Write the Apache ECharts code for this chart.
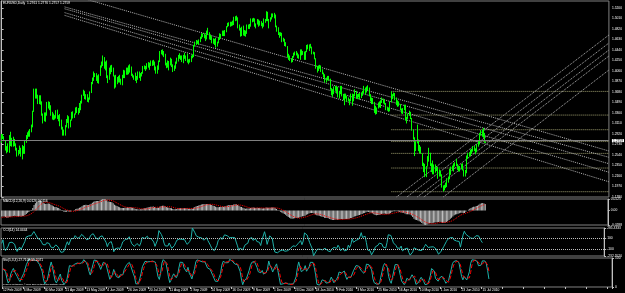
<!DOCTYPE html>
<html><head><meta charset="utf-8">
<script src="https://cdn.jsdelivr.net/npm/echarts@6/dist/echarts.min.js"></script>
<style>html,body{margin:0;padding:0;background:#000;}#c{width:625px;height:293px;}</style>
</head><body><div id="c"></div>
<script>
// ---- data (prices in pips: 2860 = 1.2860) ----
const tickLabels = ['12 Feb 2009','6 Mar 2009','30 Mar 2009','21 Apr 2009','13 May 2009','4 Jun 2009','26 Jun 2009','20 Jul 2009','11 Aug 2009','2 Sep 2009','24 Sep 2009','16 Oct 2009','9 Nov 2009','1 Dec 2009','23 Dec 2009','18 Jan 2010','9 Feb 2010','3 Mar 2010','25 Mar 2010','16 Apr 2010','10 May 2010','1 Jun 2010','23 Jun 2010','15 Jul 2010'];
const firstOpen = 2880;
const warmupCloses = [2690,2710,2760,2740,2710,2940,2970,2980,3310,3380,3590,3980,4380,4310,3890,3940,3950,4030,4070,4240,4100,3970,3920,3600,3560,3660,3720,3450,3410,3230,3150,3180,3280,3020,2860,3010,2940,2960,3170,3190,3170,2960,2800,2790,3010,2840,2850,2950,3020,2870,2890];
const closes = [2860,2860,
2810,2650,2600,2720,2860, 2730,2830,2760,2740,2670, 2580,2590,2660,2540,2670, 2590,2800,2870,2940,2930,
2960,3070,3330,3690,3590, 3600,3500,3590,3490,3280, 3180,3240,3280,3460,3490, 3420,3260,3250,3210,3200,
3330,3220,3240,3080,3030, 2940,2980,3050,3160,3240, 3050,3170,3300,3230,3270, 3390,3330,3340,3470,3490,
3620,3670,3580,3580,3520, 3560,3680,3850,3900,4000, 4000,3920,3920,3980,4150, 4170,4300,4150,4200,3950,
3930,4100,4080,4120,3960, 3760,3950,3920,3870,3920, 3810,3970,3970,4040,4040, 4100,4030,4130,3990,3960,
3940,3880,3900,4010,3950, 4000,4030,4140,4120,4100, 4190,4200,4180,4250,4200, 4230,4120,4030,4120,4240,
4420,4400,4410,4340,4180, 4180,4170,4180,4260,4170, 4080,4140,4220,4270,4340, 4320,4310,4240,4330,4310,
4340,4220,4250,4260,4310, 4340,4520,4570,4580,4570, 4600,4650,4720,4710,4680, 4630,4780,4730,4680,4680,
4630,4560,4630,4520,4570, 4640,4720,4700,4780,4710, 4790,4860,4920,4910,4910, 4930,4910,5020,5020,5010,
4860,4810,4700,4850,4720, 4760,4770,4880,4870,4860, 5010,4960,5000,4870,4910, 4980,4880,4950,4900,4860,
4990,4970,5130,4980,4990, 5000,5080,5060,5060,4870, 4810,4740,4720,4710,4620, 4630,4530,4510,4330,4340,
4270,4230,4320,4380, 4380,4380,4300,4320,
4420,4370,4410,4310,4410, 4510,4490,4520,4490,4380, 4390,4280,4100,4100,4140, 4150,4070,4010,3980,3860,
3930,3960,3910,3720,3680, 3660,3750,3740,3750,3620, 3670,3780,3610,3530,3610, 3600,3510,3510,3530,3630,
3530,3620,3680,3580,3620, 3630,3590,3640,3670,3760, 3680,3760,3750,3630,3530, 3530,3490,3310,3280,3380,
3480,3410,3510,3550,3500, 3470,3380,3370,3350,3490, 3580,3630,3640,3550,3500, 3480,3440,3370,3310,3370,
3400,3170,3190,3270,3300, 3200,2990,2830,2610,2750, 2800,2700,2640,2570,2360, 2340,2210,2340,2470,2570,
2360,2370,2200,2360,2280, 2280,2220,2220,2180,1970, 1930,1990,1990,2110,2110, 2220,2310,2280,2380,2390,
2350,2280,2310,2300,2360, 2270,2150,2230,2520,2560, 2540,2620,2620,2690,2640, 2610,2730,2740,2920,2940,
2940,2910,2761,2759];
const highs = [2920,2920,
2880,2810,2700,2750,2900, 2960,2850,2870,2830,2750, 2650,2630,2710,2670,2720, 2700,2810,2900,2950,2980,
3010,3090,3340,3740,3740, 3740,3630,3620,3620,3510, 3290,3310,3310,3500,3510, 3500,3440,3320,3290,3260,
3350,3360,3260,3280,3180, 3050,3000,3080,3190,3260, 3240,3180,3320,3330,3290, 3400,3410,3390,3480,3520,
3630,3720,3700,3640,3640, 3580,3690,3860,3940,4050, 4020,4020,3980,4000,4160, 4230,4340,4310,4230,4250,
3980,4120,4160,4170,4120, 3980,3990,3950,3970,3990, 3920,3990,4080,4070,4120, 4120,4160,4180,4140,4010,
3980,4030,3970,4050,4050, 4020,4040,4150,4160,4150, 4200,4220,4210,4250,4250, 4260,4230,4140,4160,4250,
4420,4440,4450,4420,4370, 4210,4250,4240,4300,4280, 4180,4160,4230,4300,4350, 4380,4340,4340,4350,4390,
4340,4370,4270,4280,4340, 4360,4530,4590,4620,4610, 4630,4680,4740,4740,4740, 4710,4790,4840,4760,4720,
4690,4650,4640,4660,4590, 4660,4740,4730,4790,4790, 4800,4870,4930,4940,4950, 4950,4970,5040,5050,5060,
5030,4900,4840,4860,4880, 4800,4790,4900,4900,4910, 5010,5010,5020,5010,4920, 5000,4990,4970,4960,4930,
5010,5000,5140,5120,5000, 5030,5100,5100,5110,5080, 4880,4850,4760,4760,4750, 4660,4640,4580,4510,4370,
4340,4290,4330,4390, 4410,4420,4390,4360,
4450,4450,4420,4410,4420, 4530,4540,4540,4550,4500, 4410,4400,4290,4150,4160, 4170,4160,4090,4030,4000,
3940,3970,3970,3920,3750, 3730,3780,3790,3790,3770, 3700,3790,3790,3640,3650, 3650,3610,3580,3550,3650,
3650,3640,3730,3700,3640, 3650,3660,3670,3700,3790, 3760,3780,3800,3760,3640, 3580,3570,3500,3430,3400,
3490,3510,3530,3580,3560, 3540,3480,3410,3400,3510, 3690,3640,3670,3660,3580, 3530,3510,3460,3380,3390,
3450,3450,3230,3290,3340, 3320,3210,3000,2860,2780, 3090,2820,2720,2690,2570, 2400,2380,2340,2520,2670,
2580,2390,2440,2370,2370, 2320,2330,2280,2260,2190, 1990,2000,2040,2120,2150, 2290,2330,2350,2390,2410,
2470,2380,2340,2340,2380, 2390,2280,2270,2530,2580, 2590,2640,2650,2700,2700, 2660,2740,2790,2940,2990,
3000,3030,2940,2776];
const lows = [2760,2830,
2790,2620,2570,2590,2580, 2700,2690,2690,2700,2620, 2510,2530,2560,2510,2460, 2560,2560,2760,2830,2870,
2870,2950,3040,3320,3560, 3560,3460,3460,3450,3250, 3110,3150,3140,3250,3380, 3350,3250,3180,3170,3180,
3200,3190,3150,3060,3000, 2890,2890,2890,3040,3120, 3020,3040,3160,3200,3210, 3270,3300,3270,3300,3350,
3470,3610,3550,3540,3500, 3490,3540,3660,3820,3880, 3950,3880,3840,3830,3970, 4120,4150,4100,4070,3930,
3840,3900,4000,4040,3960, 3740,3760,3820,3850,3850, 3810,3800,3930,3930,3990, 3990,4000,4030,3970,3940,
3900,3880,3840,3900,3930, 3880,3960,4010,4090,4060, 4090,4120,4080,4150,4150, 4160,4070,4010,4010,4080,
4220,4360,4340,4310,4160, 4110,4120,4070,4160,4130, 4040,4060,4100,4190,4230, 4280,4260,4220,4200,4280,
4240,4210,4180,4210,4220, 4290,4310,4500,4530,4550, 4530,4580,4640,4670,4650, 4600,4630,4710,4630,4620,
4560,4550,4530,4480,4500, 4560,4620,4650,4690,4690, 4690,4760,4850,4870,4860, 4870,4880,4890,4960,4970,
4830,4790,4680,4690,4700, 4690,4680,4730,4820,4820, 4860,4940,4950,4860,4830, 4900,4860,4880,4870,4830,
4860,4930,4960,4960,4830, 4950,4990,5030,5010,4850, 4770,4710,4660,4690,4580, 4590,4510,4500,4310,4260,
4240,4210,4220,4300, 4340,4340,4290,4280,
4260,4340,4350,4260,4260, 4400,4450,4420,4470,4360, 4360,4270,4100,4030,4060, 4100,4040,4000,3940,3850,
3850,3890,3880,3720,3620, 3590,3640,3700,3650,3580, 3560,3640,3600,3530,3440, 3560,3500,3510,3440,3510,
3430,3510,3600,3560,3550, 3580,3540,3570,3610,3660, 3630,3670,3710,3600,3510, 3460,3460,3300,3270,3280,
3390,3400,3390,3480,3470, 3450,3350,3340,3320,3330, 3550,3550,3600,3530,3440, 3410,3420,3350,3290,3280,
3350,3160,3110,3190,3250, 3190,2980,2820,2520,2620, 2800,2610,2570,2560,2340, 2230,2140,2140,2330,2420,
2340,2230,2190,2190,2220, 2250,2110,2150,2150,1950, 1880,1900,1940,1960,2040, 2100,2180,2260,2240,2330,
2340,2270,2240,2240,2280, 2260,2150,2150,2210,2470, 2510,2520,2560,2600,2610, 2550,2590,2690,2730,2890,
2870,2850,2760,2757];
const lastPrice = 1.2759;
const titleText = 'EURUSD,Daily  1.2761 1.2776 1.2757 1.2759';
const copyrightText = 'FXOpen MetaTrader, \u00a9 2001-2009 MetaQuotes Software Corp.';
// Fibonacci retracement: start bar, 0% price, 100% price
const fibStartBar = 300;
const fibTop = 1.3690, fibBottom = 1.1876;
const fibLevels = [0, 23.6, 38.2, 50, 61.8, 76.4, 100];
const fibNames = ['0.0','23.6','38.2','50.0','61.8','76.4','100.0'];
// trend lines [bar1, price1, bar2, price2]
const descLines = [
  [48.5,1.5470,467.5,1.2612],
  [48.5,1.5218,467.5,1.2498],
  [48.5,1.5184,467.5,1.2382],
  [48.5,1.5115,467.5,1.2228],
  [48.5,1.5065,467.5,1.2055]
];
const ascLines = [
  [304,1.1780,467.5,1.4710],
  [312,1.1780,467.5,1.4565],
  [320,1.1780,467.5,1.4439],
  [325,1.1780,467.5,1.4330],
  [340,1.1780,467.5,1.4077]
];

// ---- build ----
const N = closes.length, TOTAL = 468;
const P = v => 1 + v / 10000;
const opens = [firstOpen].concat(closes.slice(0, -1));
const O = opens.map(P), C = closes.map(P), H = highs.map(P), L = lows.map(P);
const candle = [];
for (let i = 0; i < N; i++) {
  const h = Math.max(H[i], O[i], C[i]), l = Math.min(L[i], O[i], C[i]);
  H[i] = h; L[i] = l;
  candle.push([O[i], C[i], l, h]);
}
const cats = Array.from({length: TOTAL}, (_, i) => i);
const pad = a => a.concat(Array(TOTAL - a.length).fill('-'));

// MACD(12,26,9)
const allC = warmupCloses.map(P).concat(C);
function ema(a, n) { const k = 2 / (n + 1); const e = [a[0]]; for (let i = 1; i < a.length; i++) e.push(a[i] * k + e[i - 1] * (1 - k)); return e; }
const e12 = ema(allC, 12), e26 = ema(allC, 26);
const mainAll = e12.map((v, i) => v - e26[i]);
const sigAll = mainAll.map((v, i) => { const s = Math.max(0, i - 8); let t = 0; for (let j = s; j <= i; j++) t += mainAll[j]; return t / (i - s + 1); });
const W = warmupCloses.length;
const macd = mainAll.slice(W), macdSig = sigAll.slice(W);
// CCI(14)
const tp = C.map((c, i) => (H[i] + L[i] + c) / 3);
const cci = tp.map((v, i) => {
  const s = Math.max(0, i - 13); const n = i - s + 1; let m = 0;
  for (let j = s; j <= i; j++) m += tp[j]; m /= n;
  let d = 0; for (let j = s; j <= i; j++) d += Math.abs(tp[j] - m); d /= n;
  return d === 0 ? 0 : (v - m) / (0.015 * d);
});
// Stochastic(5,3,3)
const num = [], den = [];
for (let i = 0; i < N; i++) {
  let hh = -1e9, ll = 1e9;
  for (let j = Math.max(0, i - 4); j <= i; j++) { hh = Math.max(hh, H[j]); ll = Math.min(ll, L[j]); }
  num.push(C[i] - ll); den.push(hh - ll);
}
const stK = num.map((v, i) => { let a = 0, b = 0; for (let j = Math.max(0, i - 2); j <= i; j++) { a += num[j]; b += den[j]; } return b === 0 ? 50 : a / b * 100; });
const stD = stK.map((v, i) => { const s = Math.max(0, i - 2); let t = 0; for (let j = s; j <= i; j++) t += stK[j]; return t / (i - s + 1); });

const mmax = Math.max(...macd, ...macdSig), mmin = Math.min(...macd, ...macdSig);
const cmax = Math.max(...cci), cmin = Math.min(...cci);

const FONT = 'Liberation Sans';
const FS = 3.3;
const lab = {color: '#ffffff', fontSize: FS, fontFamily: FONT};

const catAxis = (gi, showLabels) => ({
  type: 'category', gridIndex: gi, data: cats, boundaryGap: true,
  axisLine: {show: false},
  axisTick: {show: showLabels, interval: 15, length: 2, lineStyle: {color: '#c0c0c0'}},
  axisLabel: showLabels ? {show: true, interval: 15, align: 'left', margin: 2, hideOverlap: false, ...lab,
    formatter: (v, idx) => (idx % 16 === 0 && idx / 16 < tickLabels.length) ? tickLabels[idx / 16] : ''} : {show: false},
  splitLine: {show: false}
});
const valAxisStyle = {
  position: 'right', axisLine: {show: true, lineStyle: {color: '#c0c0c0'}},
  axisTick: {show: true, length: 2, lineStyle: {color: '#c0c0c0'}},
  splitLine: {show: false}
};

const lineSeries = (pts, color, type, label) => ({
  type: 'line', xAxisIndex: 5, yAxisIndex: 0, data: pts, symbol: 'none', silent: true,
  lineStyle: {color: color, width: 1, type: type}, label: label || {show: false}, animation: false, z: 3
});

const series = [];
series.push({
  type: 'candlestick', xAxisIndex: 0, yAxisIndex: 0, data: candle, barWidth: 1,
  itemStyle: {color: '#000000', color0: '#ffffff', borderColor: '#00ff00', borderColor0: '#00ff00', borderWidth: 1},
  markLine: {symbol: 'none', silent: true, animation: false,
    data: [{yAxis: lastPrice}],
    lineStyle: {color: '#808080', type: 'solid', width: 1},
    label: {show: true, position: 'end', formatter: lastPrice.toFixed(4), backgroundColor: '#ffffff', color: '#000', fontSize: FS, fontFamily: FONT, padding: [0, 1], distance: 3}},
  z: 4
});
fibLevels.forEach((lv, k) => {
  const p = fibTop - (fibTop - fibBottom) * lv / 100;
  series.push(lineSeries([[fibStartBar, p], {value: [467.4, p], label: {show: true, position: 'left', offset: [0, -2], formatter: fibNames[k], color: '#d2d250', fontSize: FS, fontFamily: FONT}}], '#a0a070', 'dotted'));
});
descLines.forEach(l => series.push(lineSeries([[l[0], l[1]], [l[2], l[3]]], '#b4b4b4', 'dotted')));
ascLines.forEach(l => series.push(lineSeries([[l[0], l[1]], [l[2], l[3]]], '#b4b4b4', 'dotted')));
// MACD
series.push({type: 'bar', xAxisIndex: 1, yAxisIndex: 1, data: pad(macd), barWidth: 1, itemStyle: {color: '#c0c0c0'}, animation: false, silent: true});
series.push({type: 'line', xAxisIndex: 1, yAxisIndex: 1, data: pad(macdSig), symbol: 'none', lineStyle: {color: '#ff0000', width: 1, type: 'dotted'}, animation: false, silent: true});
// CCI
series.push({type: 'line', xAxisIndex: 2, yAxisIndex: 2, data: pad(cci), symbol: 'none', lineStyle: {color: '#20b2aa', width: 1}, animation: false, silent: true,
  markLine: {symbol: 'none', silent: true, animation: false, data: [{yAxis: 100}, {yAxis: -100}], lineStyle: {color: '#c0c0c0', type: 'dotted', width: 1}, label: {show: false}}});
// Stoch
series.push({type: 'line', xAxisIndex: 3, yAxisIndex: 3, data: pad(stK), symbol: 'none', lineStyle: {color: '#20b2aa', width: 1}, animation: false, silent: true});
series.push({type: 'line', xAxisIndex: 3, yAxisIndex: 3, data: pad(stD), symbol: 'none', lineStyle: {color: '#ff0000', width: 1, type: 'dashed'}, animation: false, silent: true});

const gridBase = {left: 1, width: 611, show: true, borderColor: '#808080', borderWidth: 1, backgroundColor: '#000'};
const option = {
  backgroundColor: '#000000',
  animation: false,
  grid: [
    {...gridBase, top: 1, height: 196},
    {...gridBase, top: 199, height: 26},
    {...gridBase, top: 228, height: 28},
    {...gridBase, top: 258, height: 29}
  ],
  xAxis: [catAxis(0, false), catAxis(1, false), catAxis(2, false), catAxis(3, true),
    {type: 'category', gridIndex: 0, show: false, data: cats},
    {type: 'value', gridIndex: 0, show: false, min: -0.5, max: TOTAL - 0.5}],
  yAxis: [
    {type: 'value', gridIndex: 0, min: 1.178, max: 1.5325, interval: 0.019, ...valAxisStyle,
      axisLabel: {...lab, margin: 3, showMaxLabel: false, formatter: v => v.toFixed(4)}},
    {type: 'value', gridIndex: 1, min: mmin, max: mmax, ...valAxisStyle,
      axisTick: {show: true, length: 2, lineStyle: {color: '#c0c0c0'}, customValues: [mmax, 0, mmin]},
      axisLabel: {...lab, margin: 3, customValues: [mmax, 0, mmin], formatter: v => v === 0 ? '0.00' : v.toFixed(4)}},
    {type: 'value', gridIndex: 2, min: cmin, max: cmax, ...valAxisStyle,
      axisTick: {show: true, length: 2, lineStyle: {color: '#c0c0c0'}, customValues: [cmax, 100, -100, cmin]},
      axisLabel: {...lab, margin: 3, customValues: [cmax, 100, -100, cmin], formatter: v => (v === 100 || v === -100) ? String(v) : v.toFixed(4)}},
    {type: 'value', gridIndex: 3, min: 0, max: 100, ...valAxisStyle,
      axisTick: {show: true, length: 2, lineStyle: {color: '#c0c0c0'}, customValues: [100, 0]},
      axisLabel: {...lab, margin: 3, customValues: [100, 0], formatter: v => String(v)}}
  ],
  series: series,
  graphic: [
    {type: 'text', left: 3, top: 2, style: {text: titleText, fill: '#ffffff', font: FS + 'px ' + FONT}, z: 10},
    {type: 'text', left: 3, top: 200, style: {text: 'MACD(12,26,9) ' + macd[N - 1].toFixed(4) + ' ' + macdSig[N - 1].toFixed(4), fill: '#ffffff', font: FS + 'px ' + FONT}, z: 10},
    {type: 'text', left: 3, top: 229, style: {text: 'CCI(14) ' + cci[N - 1].toFixed(4), fill: '#ffffff', font: FS + 'px ' + FONT}, z: 10},
    {type: 'text', left: 3, top: 259, style: {text: 'Sto(5,3,3) ' + stK[N - 1].toFixed(4) + ' ' + stD[N - 1].toFixed(4), fill: '#ffffff', font: FS + 'px ' + FONT}, z: 10},
    {type: 'text', left: 3, top: 283.5, style: {text: copyrightText, fill: '#ffffff', font: '2.2px ' + FONT}, z: 10}
  ]
};
const chart = echarts.init(document.getElementById('c'));
chart.setOption(option);
</script></body></html>
